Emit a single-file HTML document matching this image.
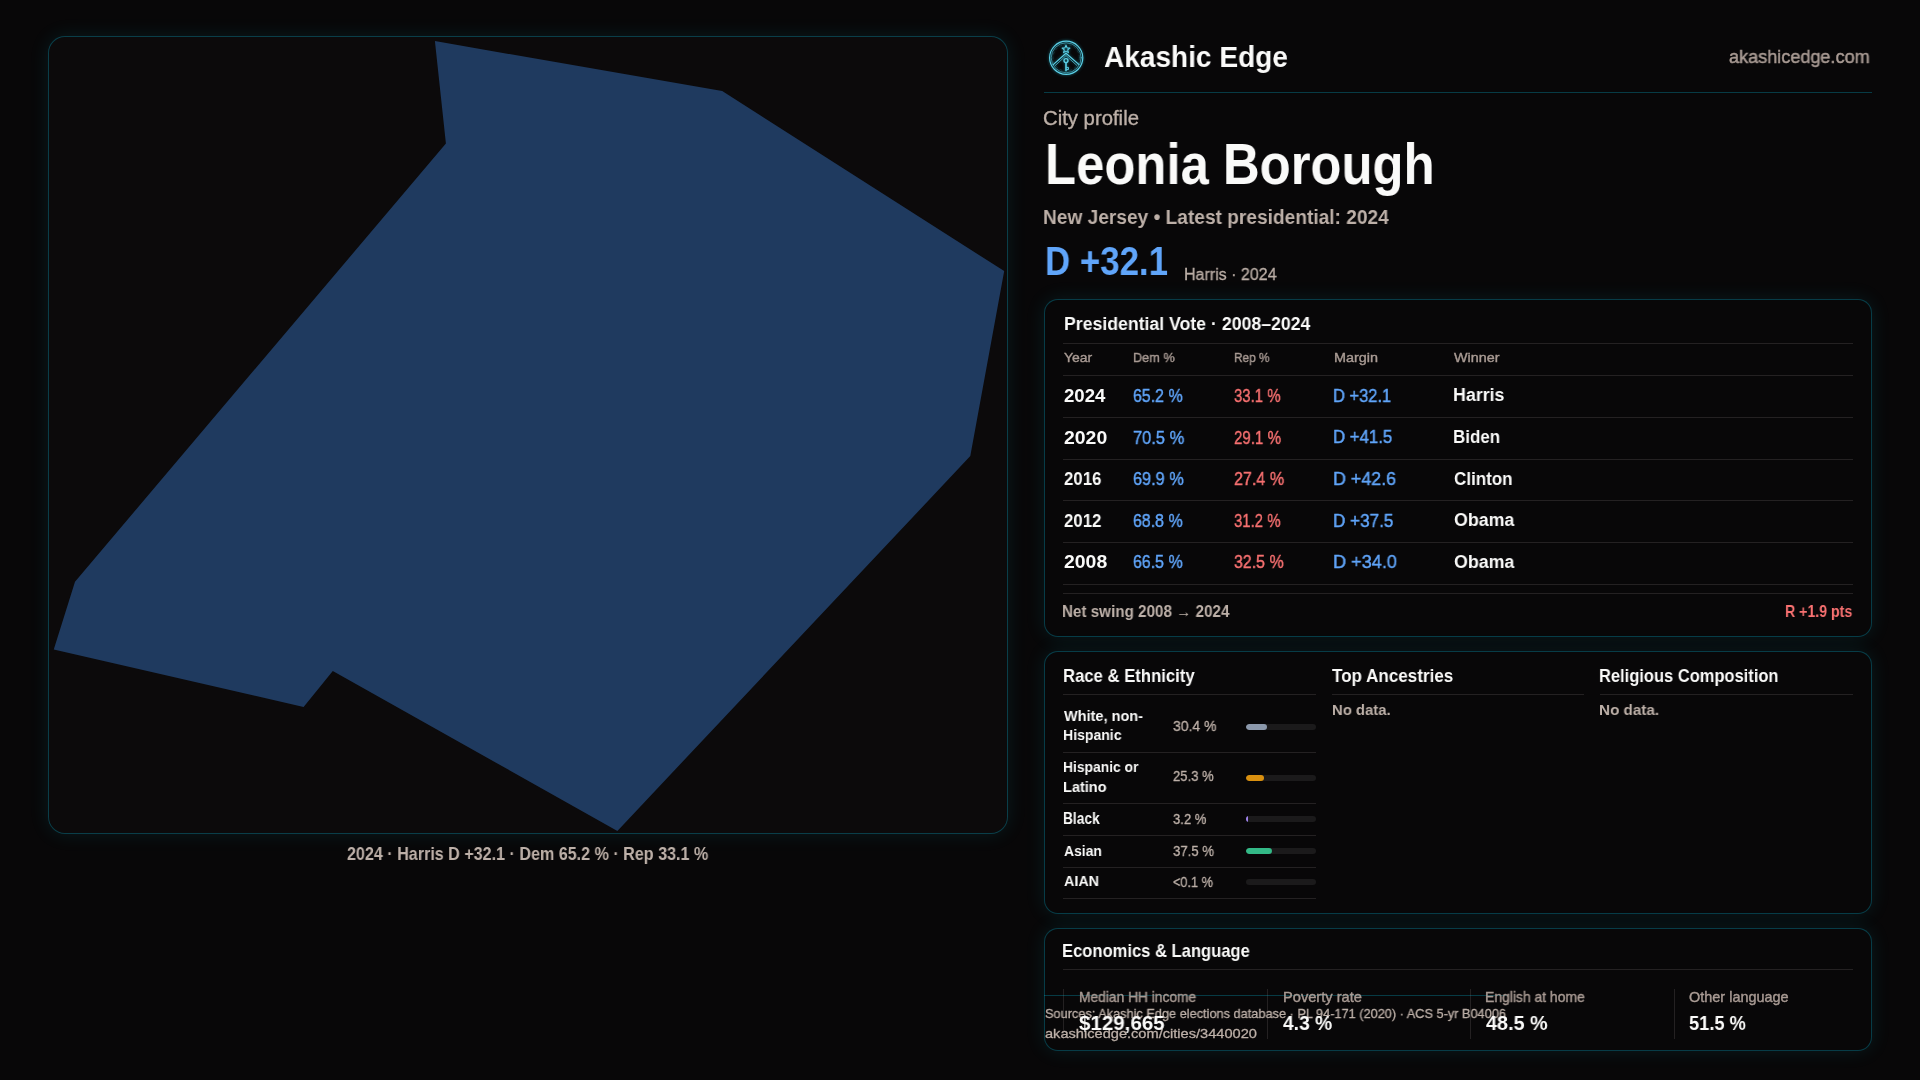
<!DOCTYPE html>
<html><head><meta charset="utf-8">
<style>
*{box-sizing:border-box;margin:0;padding:0}
html,body{width:1920px;height:1080px;overflow:hidden;background:#080708;font-family:"Liberation Sans",sans-serif;color:#fafaf9}
.abs{position:absolute}
.panel{position:absolute;border:1px solid rgba(6,182,212,0.31);background:#080708;box-shadow:0 0 20px rgba(34,211,238,0.10)}
.t{position:absolute;white-space:nowrap;line-height:1;transform-origin:0 0;will-change:transform}
.hl{position:absolute;height:1px;background:#242122}
.vl{position:absolute;width:1px;background:#242122}
.track{position:absolute;left:1246px;width:70px;height:6px;border-radius:3px;background:#1b1a1b;overflow:hidden}
.fill{position:absolute;left:0;top:0;height:6px;border-radius:3px}
</style></head><body>

<div class="panel" style="left:48px;top:36px;width:960px;height:798px;border-radius:17px;background:#0c0a0b"></div>
<svg class="abs" style="left:0;top:0" width="1010" height="840" viewBox="0 0 1010 840">
<polygon fill="#1f3a5f" points="434.9,41.1 722.2,91.1 1004.2,271.1 970.3,456.1 617.4,830.9 332.8,671.1 303.6,706.9 53.75,649.6 75,581.7 445.9,143.5"/>
</svg>

<svg class="abs" style="left:1044px;top:36px;filter:drop-shadow(0 0 1.5px rgba(34,211,238,0.55))" width="44" height="44" viewBox="0 0 44 44">
<g fill="none" stroke="#5ccfe6" stroke-linecap="round" stroke-linejoin="round">
<circle cx="22.2" cy="21.8" r="16.6" stroke-width="1.2"/>
<circle cx="22.2" cy="21.8" r="15.0" stroke-width="0.8" opacity="0.7"/>
<circle cx="22.2" cy="21.8" r="13.2" stroke-width="0.5" opacity="0.35" stroke-dasharray="2 3"/>
<path d="M22 17.2 L9.2 28.6 M22 17.2 L34.8 28.4" stroke-width="1.2"/>
<path d="M22 19.6 L11.2 29.6 M22 19.6 L32.8 29.4" stroke-width="0.8" opacity="0.85"/>
<circle cx="22" cy="24.6" r="2.0" stroke-width="1.4"/>
<path d="M22 26.8 V34.6" stroke-width="1.6"/>
<path d="M22.6 31.4 H24.4 V33.6 H22.6" stroke-width="1.0"/>
<path d="M22 9.2 L23.1 11.9 L25.9 12.1 L23.7 13.9 L24.4 16.6 L22 15.1 L19.6 16.6 L20.3 13.9 L18.1 12.1 L20.9 11.9 Z" stroke-width="1.1"/>
</g>
</svg>
<div class="abs" style="left:1044px;top:92px;width:828px;height:1px;background:rgba(6,182,212,0.30)"></div>

<!-- vote panel -->
<div class="panel" style="left:1044px;top:299px;width:828px;height:338px;border-radius:14px"></div>
<div class="hl" style="left:1063px;top:343px;width:790px"></div>
<div class="hl" style="left:1063px;top:375px;width:790px"></div>
<div class="hl" style="left:1063px;top:417px;width:790px"></div>
<div class="hl" style="left:1063px;top:459px;width:790px"></div>
<div class="hl" style="left:1063px;top:500px;width:790px"></div>
<div class="hl" style="left:1063px;top:542px;width:790px"></div>
<div class="hl" style="left:1063px;top:584px;width:790px"></div>
<div class="hl" style="left:1063px;top:593px;width:790px"></div>

<!-- race panel -->
<div class="panel" style="left:1044px;top:651px;width:828px;height:263px;border-radius:14px"></div>
<div class="hl" style="left:1063px;top:694px;width:253px"></div>
<div class="hl" style="left:1332px;top:694px;width:252px"></div>
<div class="hl" style="left:1600px;top:694px;width:253px"></div>
<div class="hl" style="left:1063px;top:752px;width:253px"></div>
<div class="hl" style="left:1063px;top:803px;width:253px"></div>
<div class="hl" style="left:1063px;top:835px;width:253px"></div>
<div class="hl" style="left:1063px;top:867px;width:253px"></div>
<div class="hl" style="left:1063px;top:898px;width:253px"></div>
<div class="track" style="top:724px"><div class="fill" style="width:21.3px;background:#8b98ab"></div></div>
<div class="track" style="top:775px"><div class="fill" style="width:17.7px;background:#d9900f"></div></div>
<div class="track" style="top:816px"><div class="fill" style="width:2.24px;background:#a083ee;border-radius:0"></div></div>
<div class="track" style="top:848px"><div class="fill" style="width:26.25px;background:#33b987"></div></div>
<div class="track" style="top:879px"></div>

<!-- econ panel -->
<div class="panel" style="left:1044px;top:928px;width:828px;height:123px;border-radius:14px"></div>
<div class="hl" style="left:1063px;top:969px;width:790px"></div>
<div class="vl" style="left:1063px;top:989px;height:50px"></div>
<div class="vl" style="left:1267px;top:989px;height:50px"></div>
<div class="vl" style="left:1470px;top:989px;height:50px"></div>
<div class="vl" style="left:1674px;top:989px;height:50px"></div>
<div class="abs" style="left:1044px;top:995px;width:463px;height:1px;background:rgba(6,182,212,0.30)"></div>

<div class="t" id="brand" style="left:1103.94px;top:40.64px;font-size:30.38px;color:#fafaf9;font-weight:700;transform:scaleX(0.9232)">Akashic Edge</div>
<div class="t" id="site" style="left:1729.30px;top:48.17px;font-size:18.41px;color:#a99b94;font-weight:400;transform:scaleX(0.9818);-webkit-text-stroke:0.5px #a99b94">akashicedge.com</div>
<div class="t" id="cp" style="left:1043.44px;top:108.50px;font-size:19.40px;color:#bdb0a8;font-weight:400;transform:scaleX(1.0475);-webkit-text-stroke:0.35px #bdb0a8">City profile</div>
<div class="t" id="title" style="left:1045.08px;top:136.25px;font-size:57.56px;color:#fafaf9;font-weight:700;transform:scaleX(0.8832)">Leonia Borough</div>
<div class="t" id="sub" style="left:1043.42px;top:207.22px;font-size:20.49px;color:#bdb0a8;font-weight:700;transform:scaleX(0.9337)">New Jersey • Latest presidential: 2024</div>
<div class="t" id="big" style="left:1045.40px;top:241.91px;font-size:40.26px;color:#60a5fa;font-weight:700;transform:scaleX(0.8658)">D +32.1</div>
<div class="t" id="harris" style="left:1183.55px;top:265.53px;font-size:16.42px;color:#bdb0a8;font-weight:400;transform:scaleX(0.9761);-webkit-text-stroke:0.3px #bdb0a8">Harris · 2024</div>
<div class="t" id="cap" style="left:346.98px;top:845.06px;font-size:18.60px;color:#bdb0a8;font-weight:700;transform:scaleX(0.8663)">2024 · Harris D +32.1 · Dem 65.2 % · Rep 33.1 %</div>
<div class="t" id="vt" style="left:1063.72px;top:315.42px;font-size:18.90px;color:#fafaf9;font-weight:700;transform:scaleX(0.9358)">Presidential Vote · 2008–2024</div>
<div class="t" id="h0" style="left:1063.50px;top:351.14px;font-size:13.66px;color:#a99b94;font-weight:400;transform:scaleX(1.0218);-webkit-text-stroke:0.4px #a99b94">Year</div>
<div class="t" id="h1" style="left:1133.30px;top:351.14px;font-size:13.66px;color:#a99b94;font-weight:400;transform:scaleX(0.9290);-webkit-text-stroke:0.4px #a99b94">Dem %</div>
<div class="t" id="h2" style="left:1233.75px;top:351.14px;font-size:13.66px;color:#a99b94;font-weight:400;transform:scaleX(0.8666);-webkit-text-stroke:0.4px #a99b94">Rep %</div>
<div class="t" id="h3" style="left:1333.50px;top:351.14px;font-size:13.66px;color:#a99b94;font-weight:400;transform:scaleX(1.0557);-webkit-text-stroke:0.4px #a99b94">Margin</div>
<div class="t" id="h4" style="left:1453.50px;top:351.14px;font-size:13.66px;color:#a99b94;font-weight:400;transform:scaleX(1.0509);-webkit-text-stroke:0.4px #a99b94">Winner</div>
<div class="t" id="r0c0" style="left:1063.50px;top:386.70px;font-size:18.62px;color:#fafaf9;font-weight:700;transform:scaleX(0.9920)">2024</div>
<div class="t" id="r0c1" style="left:1132.98px;top:386.70px;font-size:18.62px;color:#60a5fa;font-weight:400;transform:scaleX(0.8558);-webkit-text-stroke:0.45px #60a5fa">65.2 %</div>
<div class="t" id="r0c2" style="left:1233.52px;top:386.70px;font-size:18.62px;color:#f87171;font-weight:400;transform:scaleX(0.8022);-webkit-text-stroke:0.45px #f87171">33.1 %</div>
<div class="t" id="r0c3" style="left:1332.70px;top:386.70px;font-size:18.62px;color:#60a5fa;font-weight:400;transform:scaleX(0.8860);-webkit-text-stroke:0.45px #60a5fa">D +32.1</div>
<div class="t" id="r0c4" style="left:1452.70px;top:385.90px;font-size:18.90px;color:#fafaf9;font-weight:700;transform:scaleX(0.9424)">Harris</div>
<div class="t" id="r1c0" style="left:1063.50px;top:428.72px;font-size:18.62px;color:#fafaf9;font-weight:700;transform:scaleX(1.0428)">2020</div>
<div class="t" id="r1c1" style="left:1132.98px;top:428.72px;font-size:18.62px;color:#60a5fa;font-weight:400;transform:scaleX(0.8833);-webkit-text-stroke:0.45px #60a5fa">70.5 %</div>
<div class="t" id="r1c2" style="left:1233.52px;top:428.72px;font-size:18.62px;color:#f87171;font-weight:400;transform:scaleX(0.8108);-webkit-text-stroke:0.45px #f87171">29.1 %</div>
<div class="t" id="r1c3" style="left:1332.70px;top:428.07px;font-size:18.62px;color:#60a5fa;font-weight:400;transform:scaleX(0.9023);-webkit-text-stroke:0.45px #60a5fa">D +41.5</div>
<div class="t" id="r1c4" style="left:1452.70px;top:427.92px;font-size:18.90px;color:#fafaf9;font-weight:700;transform:scaleX(0.8960)">Biden</div>
<div class="t" id="r2c0" style="left:1063.50px;top:469.94px;font-size:18.62px;color:#fafaf9;font-weight:700;transform:scaleX(0.9051)">2016</div>
<div class="t" id="r2c1" style="left:1132.98px;top:469.94px;font-size:18.62px;color:#60a5fa;font-weight:400;transform:scaleX(0.8746);-webkit-text-stroke:0.45px #60a5fa">69.9 %</div>
<div class="t" id="r2c2" style="left:1233.52px;top:469.87px;font-size:18.62px;color:#f87171;font-weight:400;transform:scaleX(0.8643);-webkit-text-stroke:0.45px #f87171">27.4 %</div>
<div class="t" id="r2c3" style="left:1332.70px;top:469.94px;font-size:18.62px;color:#60a5fa;font-weight:400;transform:scaleX(0.9601);-webkit-text-stroke:0.45px #60a5fa">D +42.6</div>
<div class="t" id="r2c4" style="left:1453.50px;top:469.94px;font-size:18.90px;color:#fafaf9;font-weight:700;transform:scaleX(0.8995)">Clinton</div>
<div class="t" id="r3c0" style="left:1063.50px;top:511.96px;font-size:18.62px;color:#fafaf9;font-weight:700;transform:scaleX(0.9051)">2012</div>
<div class="t" id="r3c1" style="left:1132.98px;top:511.96px;font-size:18.62px;color:#60a5fa;font-weight:400;transform:scaleX(0.8558);-webkit-text-stroke:0.45px #60a5fa">68.8 %</div>
<div class="t" id="r3c2" style="left:1233.52px;top:511.96px;font-size:18.62px;color:#f87171;font-weight:400;transform:scaleX(0.8022);-webkit-text-stroke:0.45px #f87171">31.2 %</div>
<div class="t" id="r3c3" style="left:1332.70px;top:511.96px;font-size:18.62px;color:#60a5fa;font-weight:400;transform:scaleX(0.9195);-webkit-text-stroke:0.45px #60a5fa">D +37.5</div>
<div class="t" id="r3c4" style="left:1453.50px;top:511.16px;font-size:18.90px;color:#fafaf9;font-weight:700;transform:scaleX(0.9425)">Obama</div>
<div class="t" id="r4c0" style="left:1063.50px;top:553.18px;font-size:18.62px;color:#fafaf9;font-weight:700;transform:scaleX(1.0428)">2008</div>
<div class="t" id="r4c1" style="left:1132.98px;top:553.18px;font-size:18.62px;color:#60a5fa;font-weight:400;transform:scaleX(0.8558);-webkit-text-stroke:0.45px #60a5fa">66.5 %</div>
<div class="t" id="r4c2" style="left:1233.52px;top:553.18px;font-size:18.62px;color:#f87171;font-weight:400;transform:scaleX(0.8558);-webkit-text-stroke:0.45px #f87171">32.5 %</div>
<div class="t" id="r4c3" style="left:1332.70px;top:553.18px;font-size:18.62px;color:#60a5fa;font-weight:400;transform:scaleX(0.9737);-webkit-text-stroke:0.45px #60a5fa">D +34.0</div>
<div class="t" id="r4c4" style="left:1453.50px;top:553.18px;font-size:18.90px;color:#fafaf9;font-weight:700;transform:scaleX(0.9425)">Obama</div>
<div class="t" id="ns" style="left:1062.18px;top:602.79px;font-size:16.42px;color:#bdb0a8;font-weight:700;transform:scaleX(0.9272)">Net swing 2008 → 2024</div>
<div class="t" id="rs" style="left:1784.94px;top:604.15px;font-size:16.86px;color:#f87171;font-weight:700;transform:scaleX(0.8401)">R +1.9 pts</div>
<div class="t" id="rt0" style="left:1063.22px;top:667.32px;font-size:18.60px;color:#fafaf9;font-weight:700;transform:scaleX(0.8969)">Race &amp; Ethnicity</div>
<div class="t" id="rt1" style="left:1331.98px;top:665.97px;font-size:19.04px;color:#fafaf9;font-weight:700;transform:scaleX(0.8957)">Top Ancestries</div>
<div class="t" id="rt2" style="left:1599.44px;top:666.05px;font-size:19.04px;color:#fafaf9;font-weight:700;transform:scaleX(0.8662)">Religious Composition</div>
<div class="t" id="nd1" style="left:1332.22px;top:702.43px;font-size:15.41px;color:#bdb0a8;font-weight:700;transform:scaleX(0.9646)">No data.</div>
<div class="t" id="nd2" style="left:1599.44px;top:702.43px;font-size:15.41px;color:#bdb0a8;font-weight:700;transform:scaleX(0.9883)">No data.</div>
<div class="t" id="rl0" style="left:1063.76px;top:708.36px;font-size:15.41px;color:#fafaf9;font-weight:700;transform:scaleX(0.9421)">White, non-</div>
<div class="t" id="rl0b" style="left:1062.96px;top:727.47px;font-size:15.41px;color:#fafaf9;font-weight:700;transform:scaleX(0.9116)">Hispanic</div>
<div class="t" id="rl1" style="left:1062.96px;top:760.30px;font-size:14.97px;color:#fafaf9;font-weight:700;transform:scaleX(0.9250)">Hispanic or</div>
<div class="t" id="rl1b" style="left:1062.96px;top:779.61px;font-size:14.97px;color:#fafaf9;font-weight:700;transform:scaleX(0.9695)">Latino</div>
<div class="t" id="rl2" style="left:1062.96px;top:811.08px;font-size:15.70px;color:#fafaf9;font-weight:700;transform:scaleX(0.8740)">Black</div>
<div class="t" id="rl3" style="left:1063.76px;top:842.75px;font-size:15.55px;color:#fafaf9;font-weight:700;transform:scaleX(0.8953)">Asian</div>
<div class="t" id="rl4" style="left:1063.76px;top:873.49px;font-size:15.41px;color:#fafaf9;font-weight:700;transform:scaleX(0.9291)">AIAN</div>
<div class="t" id="rp0" style="left:1172.52px;top:717.82px;font-size:15.19px;color:#bdb0a8;font-weight:400;transform:scaleX(0.9204);-webkit-text-stroke:0.35px #bdb0a8">30.4 %</div>
<div class="t" id="rp1" style="left:1172.52px;top:768.22px;font-size:15.04px;color:#bdb0a8;font-weight:400;transform:scaleX(0.8674);-webkit-text-stroke:0.35px #bdb0a8">25.3 %</div>
<div class="t" id="rp2" style="left:1172.52px;top:810.94px;font-size:15.47px;color:#bdb0a8;font-weight:400;transform:scaleX(0.8444);-webkit-text-stroke:0.35px #bdb0a8">3.2 %</div>
<div class="t" id="rp3" style="left:1172.52px;top:842.60px;font-size:15.33px;color:#bdb0a8;font-weight:400;transform:scaleX(0.8616);-webkit-text-stroke:0.35px #bdb0a8">37.5 %</div>
<div class="t" id="rp4" style="left:1172.52px;top:873.80px;font-size:15.19px;color:#bdb0a8;font-weight:400;transform:scaleX(0.8369);-webkit-text-stroke:0.35px #bdb0a8">&lt;0.1 %</div>
<div class="t" id="f1" style="left:1044.90px;top:1006.65px;font-size:13.30px;color:#bdb0a8;font-weight:400;transform:scaleX(0.9590);-webkit-text-stroke:0.3px #bdb0a8">Sources: Akashic Edge elections database · PL 94-171 (2020) · ACS 5-yr B04006</div>
<div class="t" id="f2" style="left:1044.90px;top:1026.77px;font-size:13.40px;color:#bdb0a8;font-weight:400;transform:scaleX(1.0907);-webkit-text-stroke:0.3px #bdb0a8">akashicedge.com/cities/3440020</div>
<div class="t" id="et" style="left:1062.18px;top:943.30px;font-size:17.88px;color:#fafaf9;font-weight:700;transform:scaleX(0.9278)">Economics &amp; Language</div>
<div class="t" id="el0" style="left:1078.75px;top:989.97px;font-size:14.10px;color:#a99b94;font-weight:400;transform:scaleX(0.9773);-webkit-text-stroke:0.4px #a99b94">Median HH income</div>
<div class="t" id="el1" style="left:1282.70px;top:989.97px;font-size:14.10px;color:#a99b94;font-weight:400;transform:scaleX(1.0378);-webkit-text-stroke:0.4px #a99b94">Poverty rate</div>
<div class="t" id="el2" style="left:1485.20px;top:989.97px;font-size:14.10px;color:#a99b94;font-weight:400;transform:scaleX(0.9863);-webkit-text-stroke:0.4px #a99b94">English at home</div>
<div class="t" id="el3" style="left:1689.10px;top:989.97px;font-size:14.10px;color:#a99b94;font-weight:400;transform:scaleX(1.0256);-webkit-text-stroke:0.4px #a99b94">Other language</div>
<div class="t" id="ev0" style="left:1078.75px;top:1013.16px;font-size:20.85px;color:#fafaf9;font-weight:700;transform:scaleX(0.9853)">$129,665</div>
<div class="t" id="ev1" style="left:1282.70px;top:1013.16px;font-size:20.85px;color:#fafaf9;font-weight:700;transform:scaleX(0.9229)">4.3 %</div>
<div class="t" id="ev2" style="left:1485.80px;top:1013.16px;font-size:20.85px;color:#fafaf9;font-weight:700;transform:scaleX(0.9510)">48.5 %</div>
<div class="t" id="ev3" style="left:1689.26px;top:1013.42px;font-size:20.85px;color:#fafaf9;font-weight:700;transform:scaleX(0.8771)">51.5 %</div>

</body></html>
